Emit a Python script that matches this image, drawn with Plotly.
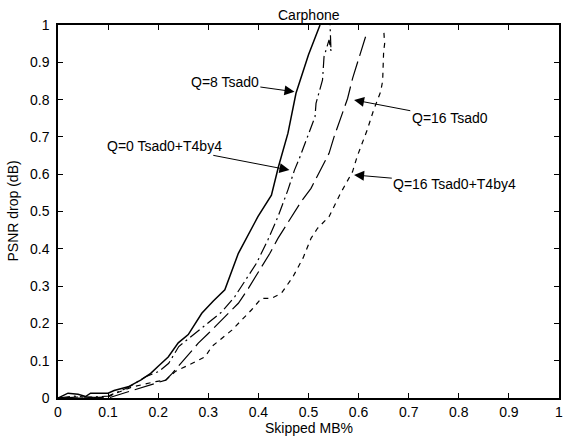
import plotly.graph_objects as go

# ---- data ----
q8_x = [0, 0.02, 0.04, 0.055, 0.065, 0.1, 0.112, 0.14, 0.165, 0.185, 0.2, 0.22, 0.24, 0.26,
        0.287, 0.31, 0.333, 0.36, 0.399, 0.426, 0.44, 0.459, 0.475, 0.5, 0.523]
q8_y = [0, 0.013, 0.01, 0.004, 0.013, 0.013, 0.02, 0.03, 0.048, 0.066, 0.085, 0.11, 0.148, 0.17,
        0.227, 0.26, 0.29, 0.388, 0.486, 0.544, 0.62, 0.71, 0.817, 0.92, 1.0]

q0_x = [0, 0.03, 0.06, 0.1, 0.14, 0.175, 0.201, 0.221, 0.241, 0.274, 0.3, 0.327, 0.353, 0.373,
        0.396, 0.419, 0.439, 0.459, 0.472, 0.482, 0.498, 0.513, 0.515, 0.528, 0.531, 0.541,
        0.545, 0.543]
q0_y = [0, 0.005, 0.002, 0.005, 0.028, 0.057, 0.071, 0.093, 0.138, 0.173, 0.2, 0.231, 0.272, 0.312,
        0.361, 0.424, 0.486, 0.558, 0.611, 0.643, 0.70, 0.754, 0.79, 0.853, 0.915, 0.96,
        0.93, 1.0]

q16_x = [0, 0.05, 0.1, 0.15, 0.2, 0.215, 0.228, 0.28, 0.3, 0.36, 0.38, 0.423, 0.439, 0.485,
         0.505, 0.541, 0.551, 0.578, 0.588, 0.614]
q16_y = [0, 0.003, 0.0, 0.02, 0.04, 0.048, 0.066, 0.147, 0.173, 0.254, 0.294, 0.388, 0.428, 0.526,
         0.562, 0.656, 0.70, 0.803, 0.857, 0.969]

q16t_x = [0, 0.05, 0.1, 0.116, 0.149, 0.175, 0.195, 0.215, 0.234, 0.274, 0.294, 0.307, 0.347,
          0.386, 0.406, 0.426, 0.446, 0.469, 0.489, 0.505, 0.518, 0.541, 0.564, 0.588, 0.597,
          0.617, 0.63, 0.644, 0.648, 0.65, 0.652, 0.65]
q16t_y = [0, 0, 0.003, 0.013, 0.03, 0.039, 0.044, 0.048, 0.071, 0.097, 0.111, 0.138, 0.182,
          0.236, 0.267, 0.267, 0.281, 0.325, 0.375, 0.428, 0.455, 0.486, 0.549, 0.607, 0.647,
          0.718, 0.772, 0.821, 0.85, 0.93, 0.95, 0.99]

tick_vals = [0, 0.1, 0.2, 0.3, 0.4, 0.5, 0.6, 0.7, 0.8, 0.9, 1]
tick_text = ["0", "0.1", "0.2", "0.3", "0.4", "0.5", "0.6", "0.7", "0.8", "0.9", "1"]

# label text, text centre (x, y), arrow tip (x, y)
labels = ["Q=8 Tsad0", "Q=0 Tsad0+T4by4", "Q=16 Tsad0", "Q=16 Tsad0+T4by4"]
label_x = [0.333, 0.212, 0.782, 0.792]
label_y = [0.847, 0.676, 0.75, 0.575]
tip_x = [0.472, 0.462, 0.591, 0.591]
tip_y = [0.821, 0.611, 0.799, 0.598]

FONT = "Arial, Liberation Sans, sans-serif"
FS = 14
fig = go.Figure()
styles = [
    (q8_x, q8_y, "solid", 1.5),
    (q0_x, q0_y, "12px,4px,2px,4px", 1.2),
    (q16_x, q16_y, "20px,6px", 1.2),
    (q16t_x, q16t_y, "5px,5px", 1.2),
]
for xs, ys, dash, w in styles:
    fig.add_trace(go.Scatter(x=xs, y=ys, mode="lines",
                             line=dict(color="black", width=w, dash=dash),
                             showlegend=False, hoverinfo="skip"))

for t, lx, ly, tx, ty in zip(labels, label_x, label_y, tip_x, tip_y):
    fig.add_annotation(x=tx, y=ty, ax=lx, ay=ly, xref="x", yref="y", axref="x", ayref="y",
                       text=t, showarrow=True, arrowhead=2, arrowsize=2, arrowwidth=1,
                       arrowcolor="black", standoff=0,
                       font=dict(family=FONT, size=FS, color="black"))

axis_common = dict(range=[0, 1], tickvals=tick_vals, ticktext=tick_text,
                   showgrid=False, zeroline=False, showline=True, linecolor="black",
                   linewidth=1.5, mirror="ticks", ticks="inside", ticklen=5,
                   tickcolor="black", tickfont=dict(family=FONT, size=FS, color="black"))

fig.update_xaxes(**axis_common)
fig.update_yaxes(**axis_common, ticklabelstandoff=4)

fig.add_annotation(text="Carphone", xref="paper", yref="paper", x=0.5, y=1, yanchor="bottom",
                   yshift=0, showarrow=False, font=dict(family=FONT, size=FS, color="black"))
fig.add_annotation(text="Skipped MB%", xref="paper", yref="paper", x=0.5, y=0, yanchor="top",
                   yshift=-20, showarrow=False, font=dict(family=FONT, size=FS, color="black"))
fig.add_annotation(text="PSNR drop (dB)", xref="paper", yref="paper", x=0, y=0.5,
                   xanchor="right", xshift=-36, textangle=-90, showarrow=False,
                   font=dict(family=FONT, size=FS, color="black"))

fig.update_layout(width=566, height=437, margin=dict(l=58, r=3, t=25, b=39),
                  plot_bgcolor="white", paper_bgcolor="white")

fig.write_html("out.html")
